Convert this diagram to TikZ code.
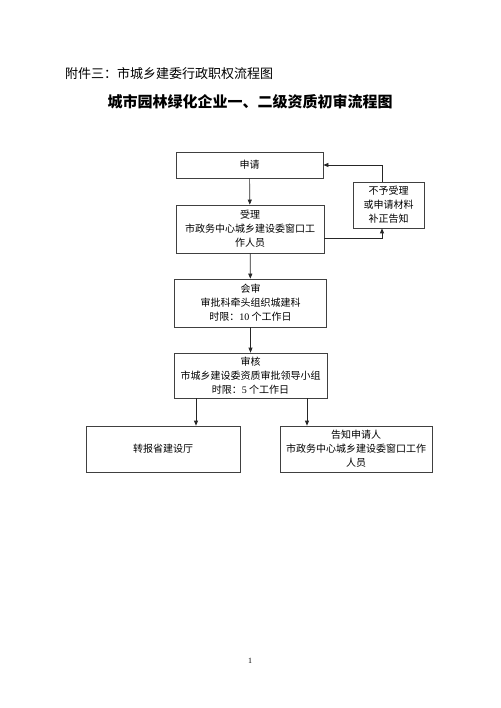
\documentclass[tikz,border=0pt]{standalone}
\usepackage{fontspec}
\setmainfont{Liberation Serif}
\newfontfamily\cjk{Noto Sans CJK SC}
\usetikzlibrary{arrows.meta}

\begin{document}
\begin{tikzpicture}[x=1pt,y=-1pt,
    box/.style={draw=black!75,line width=0.7pt,align=center,inner sep=0pt,
        font=\cjk\fontsize{10}{14}\selectfont},
    arr/.style={draw=black!85,line width=0.7pt,-{Triangle[length=5pt,width=4pt]}}]
    \useasboundingbox (0,0) rectangle (500,708);

    \node[anchor=west,inner sep=0pt,font=\cjk\fontsize{13}{15}\selectfont] (head) at (65,74) {附件三：市城乡建委行政职权流程图};
    \node[inner sep=0pt,font=\cjk\bfseries\fontsize{15}{17}\selectfont] (title) at (250,102) {城市园林绿化企业一、二级资质初审流程图};

    \node[box,minimum width=147pt,minimum height=26pt] (apply) at (249.5,165) {申请};
    \node[box,minimum width=148pt,minimum height=48pt] (accept) at (250,229) {受理\\市政务中心城乡建设委窗口工\\作人员};
    \node[box,minimum width=152pt,minimum height=48pt] (joint) at (250.5,303) {会审\\审批科牵头组织城建科\\时限：{\rmfamily 10} 个工作日};
    \node[box,minimum width=153pt,minimum height=45pt] (check) at (250.5,375.5) {审核\\市城乡建设委资质审批领导小组\\时限：{\rmfamily 5} 个工作日};
    \node[box,minimum width=154pt,minimum height=46pt] (report) at (163,449) {转报省建设厅};
    \node[box,minimum width=152pt,minimum height=46pt] (notify) at (356,449) {告知申请人\\市政务中心城乡建设委窗口工作\\人员};
    \node[box,minimum width=71pt,minimum height=46pt] (reject) at (388.5,205) {不予受理\\或申请材料\\补正告知};

    \coordinate (back) at (382,165);
    \coordinate (out) at (382,238);
    \coordinate (left) at (196,0);
    \coordinate (right) at (307,0);

    \draw[arr] (apply) -- (accept);
    \draw[arr] (accept) -- (joint);
    \draw[arr] (joint) -- (check);
    \draw[arr] (check.south -| left) -- (report.north -| left);
    \draw[arr] (check.south -| right) -- (notify.north -| right);

    \draw[arr] (accept.east |- out) -- (out) -- (reject.south -| out);
    \draw[arr] (reject.north -| back) -- (back) -- (apply.east |- back);

    \node[inner sep=0pt,font=\fontsize{8}{9}\selectfont] (page) at (250,661) {1};
\end{tikzpicture}
\end{document}
